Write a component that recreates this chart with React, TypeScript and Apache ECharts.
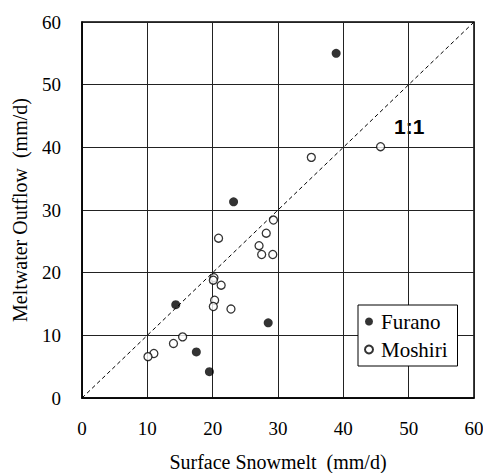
import React, { useEffect, useRef } from "react";
import * as echarts from "echarts";

const xTicks = [0, 10, 20, 30, 40, 50, 60];
const yTicks = [0, 10, 20, 30, 40, 50, 60];
const furano: number[][] = [
  [38.9, 55.0],
  [23.2, 31.3],
  [14.35, 14.9],
  [28.5, 12.0],
  [17.5, 7.35],
  [19.5, 4.2],
];
const moshiri: number[][] = [
  [45.7, 40.1],
  [35.1, 38.4],
  [29.3, 28.4],
  [28.2, 26.3],
  [20.9, 25.5],
  [27.1, 24.3],
  [27.5, 22.9],
  [29.2, 22.9],
  [20.2, 19.2],
  [20.1, 18.8],
  [21.3, 18.0],
  [20.3, 15.6],
  [20.1, 14.6],
  [22.8, 14.2],
  [15.4, 9.75],
  [14.0, 8.7],
  [11.0, 7.1],
  [10.1, 6.6],
];
const oneToOne: number[][] = [
  [0, 0],
  [60, 60],
];
const xTitle = "Surface Snowmelt\u2002(mm/d)";
const yTitle = "Meltwater Outflow\u2002(mm/d)";

const serif = "Liberation Serif";

export default function App() {
  const ref = useRef<HTMLDivElement>(null);
  useEffect(() => {
    if (!ref.current) return;
    const chart = echarts.init(ref.current, null, { renderer: "svg" });
    const labelRich = { t: { fontFamily: serif, fontSize: 19, color: "#000" } };
    const axisCommon = {
      type: "value" as const,
      min: xTicks[0],
      max: xTicks[xTicks.length - 1],
      interval: 10,
      nameLocation: "middle" as const,
      nameTextStyle: { fontFamily: serif, fontSize: 20, color: "#000" },
      axisLine: { show: true, lineStyle: { color: "#000", width: 1.5 } },
      axisTick: { show: false },
      axisLabel: {
        fontFamily: serif,
        fontSize: 19,
        color: "#000",
        margin: 21,
        formatter: "{t|{value}}",
        rich: labelRich,
      },
      splitLine: { show: true, lineStyle: { color: "#222", width: 1 } },
    };
    chart.setOption({
      animation: false,
      backgroundColor: "#fff",
      textStyle: { fontFamily: serif, color: "#000" },
      grid: {
        left: 82,
        right: 9,
        top: 22,
        bottom: 75,
        show: true,
        borderColor: "#000",
        borderWidth: 1.5,
        outerBoundsMode: "none",
        containLabel: false,
      },
      xAxis: { ...axisCommon, name: xTitle, nameGap: 54 },
      yAxis: {
        ...axisCommon,
        min: yTicks[0],
        max: yTicks[yTicks.length - 1],
        name: yTitle,
        nameGap: 52,
        axisLabel: { ...axisCommon.axisLabel, margin: 21 },
      },
      legend: {
        data: ["Furano", "Moshiri"],
        orient: "vertical",
        left: 358,
        top: 305,
        backgroundColor: "#fff",
        borderColor: "#000",
        borderWidth: 1,
        padding: [6, 10, 6, 6],
        itemGap: 7,
        itemWidth: 14,
        itemHeight: 8,
        formatter: "{t|{name}}",
        textStyle: {
          fontFamily: serif,
          fontSize: 21,
          color: "#000",
          rich: { t: { fontFamily: serif, fontSize: 21, color: "#000" } },
        },
      },
      graphic: [
        {
          type: "text",
          left: 394,
          top: 116,
          style: {
            text: "1:1",
            fontFamily: "Liberation Sans",
            fontWeight: "bold",
            fontSize: 21,
            fill: "#000",
          },
        },
      ],
      series: [
        {
          type: "line",
          data: oneToOne,
          symbol: "none",
          silent: true,
          lineStyle: { color: "#000", width: 1, type: [4, 3] },
          z: 1,
        },
        {
          name: "Furano",
          type: "scatter",
          data: furano,
          symbol: "circle",
          symbolSize: 9,
          itemStyle: { color: "#000" },
          z: 3,
        },
        {
          name: "Moshiri",
          type: "scatter",
          data: moshiri,
          symbol: "circle",
          symbolSize: 8,
          itemStyle: { color: "#fff", borderColor: "#000", borderWidth: 1.3 },
          z: 3,
        },
      ],
    });
    return () => chart.dispose();
  }, []);
  return <div ref={ref} style={{ width: 483, height: 473, position: "absolute", left: 0, top: 0 }} />;
}
